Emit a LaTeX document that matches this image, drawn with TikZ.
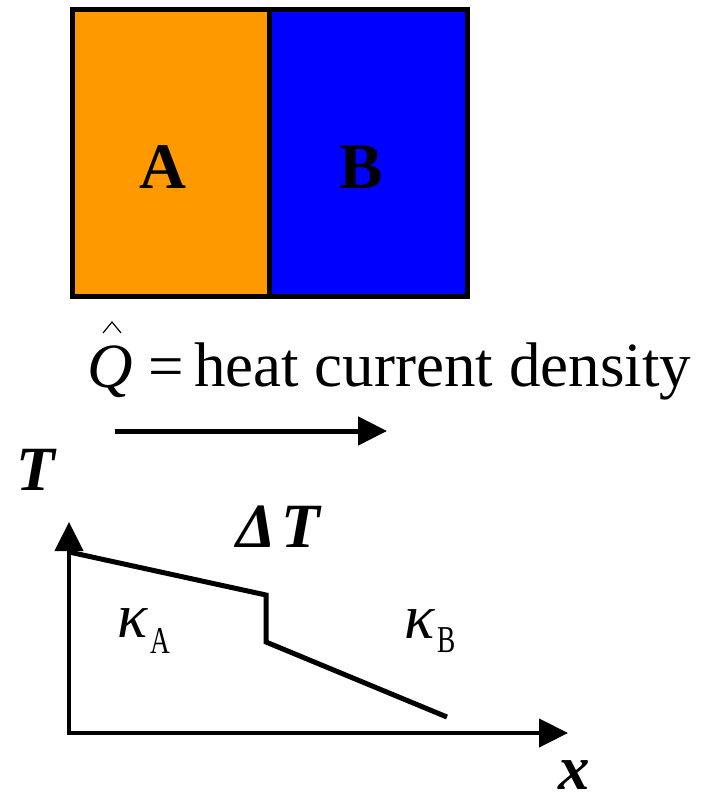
\documentclass[tikz,border=0pt]{standalone}
\usepackage{fontspec}
\setmainfont{Liberation Serif}
\newfontfamily\subfont[FakeStretch=0.72]{Liberation Serif}
\usetikzlibrary{arrows.meta}
\definecolor{boxorange}{HTML}{FF9900}
\definecolor{boxblue}{HTML}{0000FF}
\tikzset{
  blockbox/.style={draw=black, line width=5pt, inner sep=0pt, minimum width=197.5pt, minimum height=287pt, anchor=north west},
  bigtxt/.style={inner sep=0pt, font=\fontsize{63}{70}\selectfont},
  boxlbl/.style={inner sep=0pt, anchor=base, font=\fontsize{65}{72}\selectfont\bfseries},
  sublbl/.style={inner sep=0pt, anchor=base west, font=\fontsize{38}{44}\selectfont\subfont},
  bigtip/.tip={Triangle[length=29pt, width=28pt]},
  thick5/.style={line width=5pt},
}
\begin{document}
\begin{tikzpicture}[x=1pt, y=-1pt]
\useasboundingbox (0,0) rectangle (714,800);
% blocks
\node[blockbox, fill=boxorange] (boxA) at (69.5,7) {};
\node[blockbox, fill=boxblue] (boxB) at (267,7) {};
\node[boxlbl] (lblA) at (162.5,188) {A};
\node[boxlbl] (lblB) at (361,188) {B};
% heat current text
\node[bigtxt, anchor=base west] (Q) at (87,387) {\itshape Q};
\draw[line width=1.2pt, line join=miter] (103,333) -- (112,322) -- (121,333);
\node[bigtxt, anchor=base west] (eq) at (148,387) {=};
\node[bigtxt, anchor=base west] (heat) at (194,386) {heat current density};
\coordinate (fs) at (115,431);
\coordinate (fe) at (387,431);
\draw[thick5, -{bigtip}] (fs) -- (fe);
% axes
\coordinate (O) at (69,733);
\coordinate (ytip) at (69,522);
\coordinate (xtip) at (568,733);
\draw[line width=4.5pt, line join=miter, {bigtip}-{bigtip}] (ytip) -- (O) -- (xtip);
\node[bigtxt, anchor=base west] (Tlbl) at (16,490) {\bfseries\itshape T};
\node[bigtxt, anchor=base west] (xlbl) at (558,789) {\bfseries\itshape x};
\node[bigtxt, anchor=base west] (dT) at (236,547) {\bfseries\itshape Δ\kern6pt T};
% temperature profile
\coordinate (p1) at (69,552);
\coordinate (p2) at (266,595);
\coordinate (p3) at (266,642);
\coordinate (p4) at (447,717);
\draw[thick5, line join=miter] (p1) -- (p2) -- (p3) -- (p4);
% conductivities
\node[bigtxt, anchor=base west] (kA) at (117,637) {\itshape κ};
\node[sublbl] (kAs) at (150,653) {A};
\node[bigtxt, anchor=base west] (kB) at (404,638) {\itshape κ};
\node[sublbl] (kBs) at (437,652) {B};
\end{tikzpicture}
\end{document}
